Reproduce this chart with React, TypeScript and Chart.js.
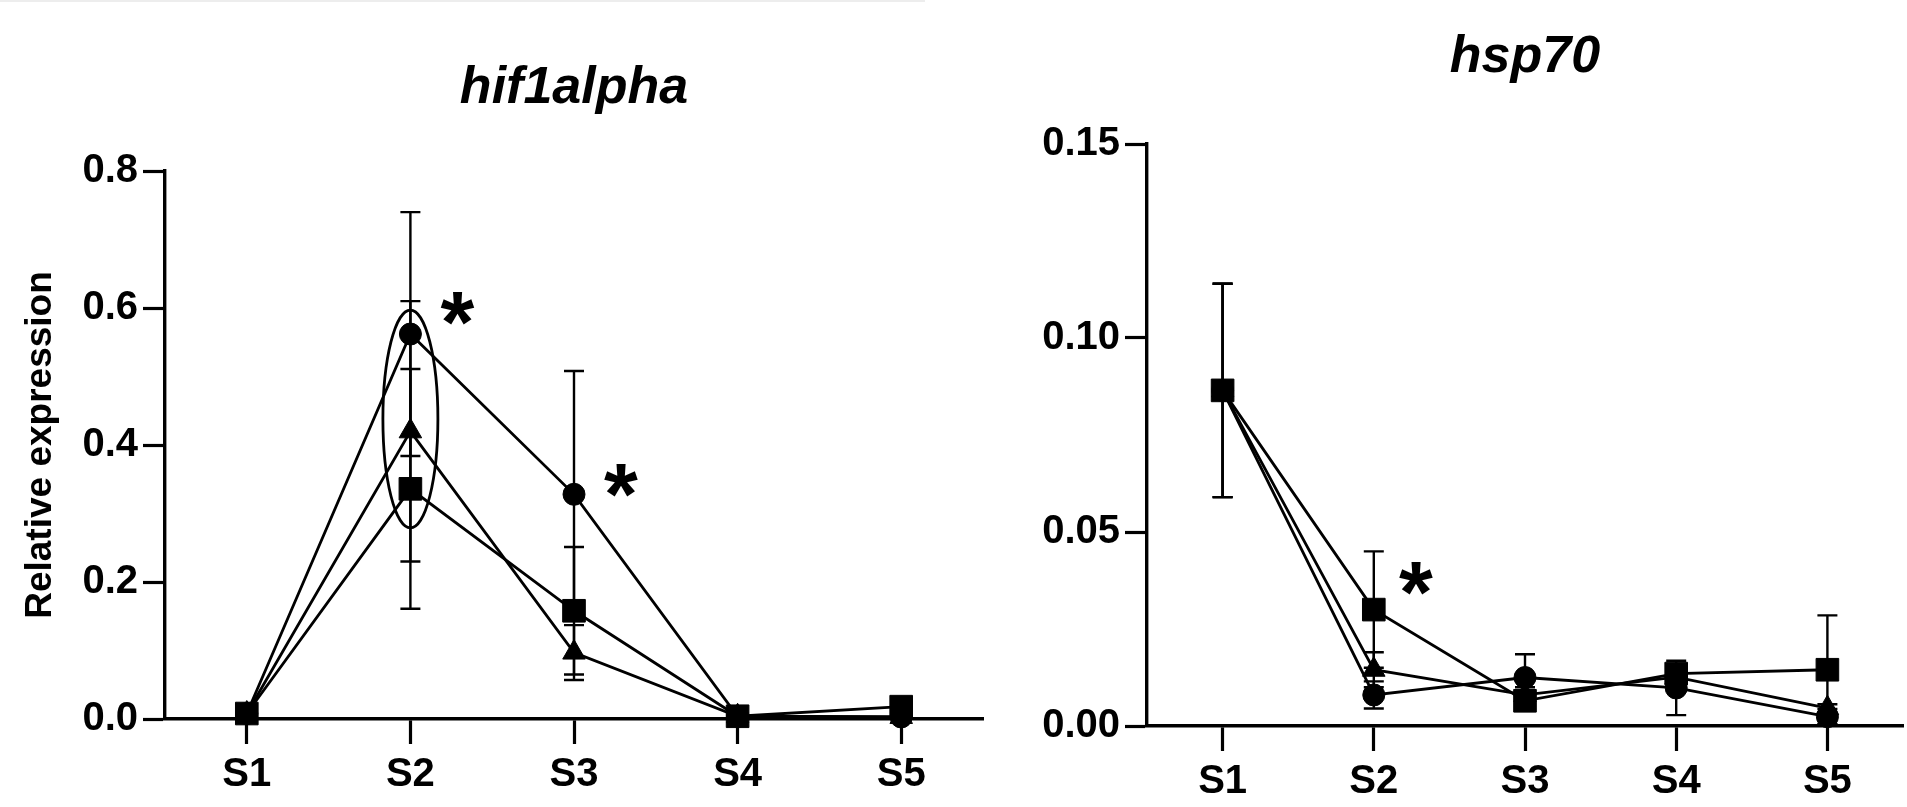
import React, { useEffect, useRef } from 'react';
import { Chart, registerables } from 'chart.js';

Chart.register(...registerables);

const FONT = "'Liberation Sans', Arial, Helvetica, sans-serif";
Chart.defaults.font.family = FONT;

// ---------- data ----------
const categories = ['S1', 'S2', 'S3', 'S4', 'S5'];

// hif1alpha panel
const hifCircle = [0.008, 0.562, 0.328, 0.004, 0.003];
const hifCircleErr = [0, 0.178, 0.18, 0, 0];
const hifTriangle = [0.008, 0.42, 0.097, 0.004, 0.003];
const hifTriangleErr = [0, 0.19, 0.04, 0, 0];
const hifSquare = [0.008, 0.336, 0.158, 0.004, 0.018];
const hifSquareErr = [0, 0.175, 0.093, 0, 0];
const hifTicks = [0, 0.2, 0.4, 0.6, 0.8];
const hifStarCategories = [1, 2];
const hifStarValues = [0.6, 0.348];
const hifEllipseCategory = 1;
const hifEllipseCenter = 0.438;
const hifEllipseHalfHeight = 0.159;

// hsp70 panel
const hspCircle = [0.0865, 0.008, 0.0125, 0.0098, 0.0024];
const hspCircleErr = [0.0275, 0.0035, 0.006, 0.007, 0.002];
const hspTriangle = [0.0865, 0.0145, 0.008, 0.0126, 0.0046];
const hspTriangleErr = [0.0275, 0.0045, 0.002, 0.003, 0.001];
const hspSquare = [0.0865, 0.03, 0.0065, 0.0135, 0.0145];
const hspSquareErr = [0.0275, 0.015, 0.002, 0.0025, 0.014];
const hspTicks = [0, 0.05, 0.1, 0.15];
const hspStarCategories = [1];
const hspStarValues = [0.038];

// ---------- plugins ----------
const errorBarPlugin = {
  id: 'errorBars',
  beforeDatasetsDraw(chart: any) {
    const { ctx } = chart;
    const xs = chart.scales.x;
    const ys = chart.scales.y;
    ctx.save();
    ctx.strokeStyle = '#000';
    ctx.lineWidth = 2.4;
    chart.data.datasets.forEach((ds: any) => {
      ds.data.forEach((v: number, i: number) => {
        const e = ds.errors ? ds.errors[i] : 0;
        if (!e) return;
        const px = xs.getPixelForValue(i);
        const top = ys.getPixelForValue(v + e);
        const bot = ys.getPixelForValue(v - e);
        ctx.beginPath();
        ctx.moveTo(px, top);
        ctx.lineTo(px, bot);
        ctx.moveTo(px - 10, top);
        ctx.lineTo(px + 10, top);
        ctx.moveTo(px - 10, bot);
        ctx.lineTo(px + 10, bot);
        ctx.stroke();
      });
    });
    ctx.restore();
  },
};

const annotationPlugin = {
  id: 'annot',
  afterDatasetsDraw(chart: any, _args: any, opts: any) {
    const { ctx } = chart;
    const xs = chart.scales.x;
    const ys = chart.scales.y;
    ctx.save();
    if (opts.ellipse) {
      const el = opts.ellipse;
      const cx = xs.getPixelForValue(el.category);
      const cy = ys.getPixelForValue(el.center);
      const ry = Math.abs(ys.getPixelForValue(el.center + el.halfHeight) - cy);
      ctx.strokeStyle = '#000';
      ctx.lineWidth = 2.8;
      ctx.beginPath();
      ctx.ellipse(cx, cy, 27.5, ry, 0, 0, Math.PI * 2);
      ctx.stroke();
    }
    if (opts.stars) {
      ctx.fillStyle = '#000';
      ctx.font = `bold 100px ${FONT}`;
      const m0 = ctx.measureText('*');
      const h0 = m0.actualBoundingBoxAscent + m0.actualBoundingBoxDescent;
      const size = (100 * 33) / h0;
      ctx.font = `bold ${size}px ${FONT}`;
      const m = ctx.measureText('*');
      ctx.textAlign = 'center';
      ctx.textBaseline = 'alphabetic';
      opts.stars.categories.forEach((c: number, k: number) => {
        const px = xs.getPixelForValue(c) + opts.stars.dx;
        const py = ys.getPixelForValue(opts.stars.values[k]);
        const baseY = py + (m.actualBoundingBoxAscent - m.actualBoundingBoxDescent) / 2;
        ctx.fillText('*', px, baseY);
      });
    }
    ctx.restore();
  },
};

// ---------- config builders ----------
function makeDatasets(c: number[], ce: number[], t: number[], te: number[], s: number[], se: number[]) {
  const base = {
    borderColor: '#000',
    backgroundColor: '#000',
    borderWidth: 2.8,
    pointBackgroundColor: '#000',
    pointBorderColor: '#000',
    pointBorderWidth: 1,
    tension: 0,
    clip: false as any,
    fill: false,
  };
  return [
    { ...base, label: 'square', data: s, errors: se, pointStyle: 'rect', pointRadius: 16 },
    { ...base, label: 'triangle', data: t, errors: te, pointStyle: 'triangle', pointRadius: 13 },
    { ...base, label: 'circle', data: c, errors: ce, pointStyle: 'circle', pointRadius: 11 },
  ];
}

function axisGrid(len: number) {
  return {
    display: true,
    drawOnChartArea: false,
    drawTicks: true,
    tickLength: len,
    tickWidth: 3.2,
    tickColor: '#000',
    color: '#000',
    offset: false,
  };
}

const tickFont = { family: FONT, size: 40, weight: 'bold' as any };

function makeConfig(p: any): any {
  return {
    type: 'line',
    data: {
      labels: categories,
      datasets: makeDatasets(p.c, p.ce, p.t, p.te, p.s, p.se),
    },
    options: {
      responsive: false,
      animation: false,
      events: [],
      layout: { padding: p.padding },
      plugins: {
        legend: { display: false },
        tooltip: { enabled: false },
        title: {
          display: true,
          text: p.title,
          fullSize: false,
          color: '#000',
          font: { family: FONT, size: 52, weight: 'bold', style: 'italic' },
          padding: p.titlePadding,
        },
        annot: { stars: p.stars, ellipse: p.ellipse },
      },
      scales: {
        x: {
          type: 'category',
          offset: true,
          grid: axisGrid(25),
          border: { display: true, color: '#000', width: 3.4 },
          ticks: { font: tickFont, color: '#000', padding: 7, maxRotation: 0, autoSkip: false },
          afterFit: (s: any) => {
            s.height = 70;
          },
        },
        y: {
          min: 0,
          max: p.max,
          afterBuildTicks: (s: any) => {
            s.ticks = p.ticks.map((value: number) => ({ value }));
          },
          grid: axisGrid(22),
          border: { display: true, color: '#000', width: 3.4 },
          ticks: {
            font: tickFont,
            color: '#000',
            padding: 5,
            callback: (v: any) => Number(v).toFixed(p.decimals),
          },
          title: p.yTitle
            ? {
                display: true,
                text: p.yTitle,
                color: '#000',
                font: { family: FONT, size: 37, weight: 'bold' },
                padding: { top: 19, bottom: 0 },
              }
            : { display: false },
          afterFit: (s: any) => {
            s.width = p.yWidth;
          },
        },
      },
    },
    plugins: [errorBarPlugin, annotationPlugin],
  };
}

const leftParams = {
  title: 'hif1alpha',
  c: hifCircle, ce: hifCircleErr, t: hifTriangle, te: hifTriangleErr, s: hifSquare, se: hifSquareErr,
  ticks: hifTicks, max: 0.8, decimals: 1,
  yTitle: 'Relative expression',
  yWidth: 165,
  padding: { left: 0, right: 12, top: 0, bottom: 18 },
  titlePadding: { top: 57, bottom: 51.6 },
  stars: { categories: hifStarCategories, values: hifStarValues, dx: 47 },
  ellipse: { category: hifEllipseCategory, center: hifEllipseCenter, halfHeight: hifEllipseHalfHeight },
};

const rightParams = {
  title: 'hsp70',
  c: hspCircle, ce: hspCircleErr, t: hspTriangle, te: hspTriangleErr, s: hspSquare, se: hspSquareErr,
  ticks: hspTicks, max: 0.15, decimals: 2,
  yTitle: null,
  yWidth: 147,
  padding: { left: 0, right: 8, top: 0, bottom: 11 },
  titlePadding: { top: 26, bottom: 55.6 },
  stars: { categories: hspStarCategories, values: hspStarValues, dx: 42 },
  ellipse: null,
};

function Panel({ params, left, width }: { params: any; left: number; width: number }) {
  const ref = useRef<HTMLCanvasElement>(null);
  useEffect(() => {
    const chart = new Chart(ref.current as HTMLCanvasElement, makeConfig(params));
    return () => chart.destroy();
  }, []);
  return (
    <canvas
      ref={ref}
      width={width}
      height={807}
      style={{ position: 'absolute', left, top: 0, width, height: 807 }}
    />
  );
}

export default function App() {
  return (
    <div
      style={{
        position: 'absolute',
        left: 0,
        top: 0,
        width: 1907,
        height: 807,
        overflow: 'hidden',
        background: '#fff',
      }}
    >
      <div style={{ position: 'absolute', left: 0, top: 0, width: 925, height: 2, background: '#ededed' }} />
      <Panel params={leftParams} left={0} width={1000} />
      <Panel params={rightParams} left={1000} width={920} />
    </div>
  );
}
